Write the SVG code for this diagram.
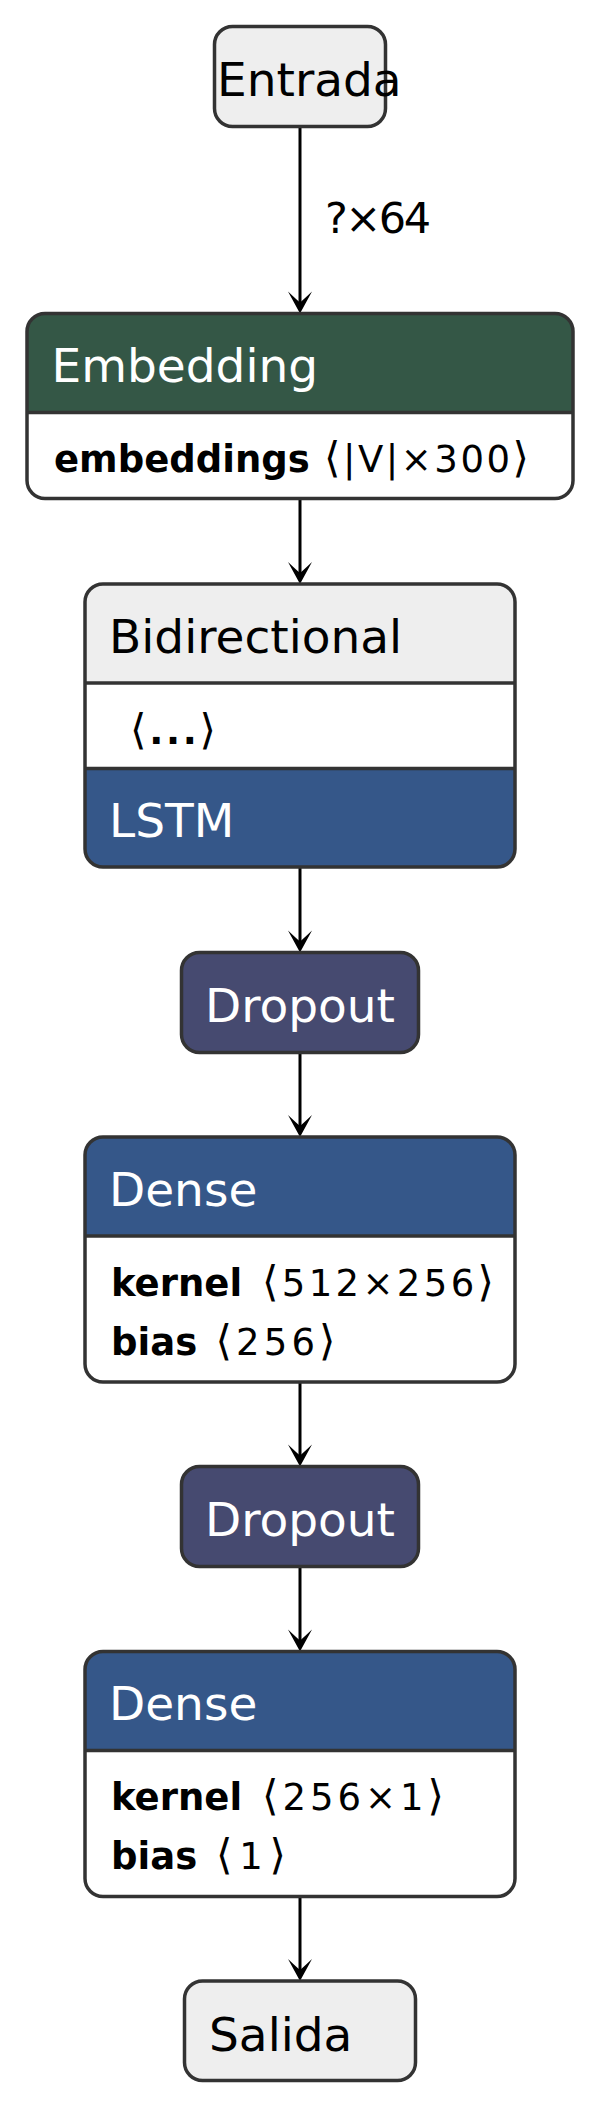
<svg xmlns="http://www.w3.org/2000/svg" xmlns:xlink="http://www.w3.org/1999/xlink" width="600" height="2109" viewBox="0 0 600 2109">
<style>
.box{stroke:#333333;stroke-width:3.5}
.ol{fill:none}
.div{stroke:#333333;stroke-width:3.5}
.hd{font-family:"DejaVu Sans","Liberation Sans",sans-serif;font-size:47px}
.bd{font-family:"DejaVu Sans","Liberation Sans",sans-serif;font-size:37px;fill:#000}
.br{font-size:42px}
.b{font-weight:bold}
.w{fill:#ffffff}
.k{fill:#000000}
.lbl{font-family:"DejaVu Sans","Liberation Sans",sans-serif;font-size:43px;fill:#000}
.edge{stroke:#000;stroke-width:3;fill:none}
</style>
<defs>
<path id="ah" d="M0,0 L-12,-22 Q-3,-13.5 0,-11 Q3,-13.5 12,-22 Z" fill="#000"/>
</defs>
<rect width="600" height="2109" fill="#ffffff"/>
<g id="connectors">
<line class="edge" x1="300" y1="126.5" x2="300" y2="304"/>
<use xlink:href="#ah" x="300" y="313.5"/>
<text class="lbl" x="325" y="232.5" textLength="106">?×64</text>
<line class="edge" x1="300" y1="498.5" x2="300" y2="574"/>
<use xlink:href="#ah" x="300" y="584"/>
<line class="edge" x1="300" y1="867" x2="300" y2="943"/>
<use xlink:href="#ah" x="300" y="952.5"/>
<line class="edge" x1="300" y1="1052.5" x2="300" y2="1127"/>
<use xlink:href="#ah" x="300" y="1137"/>
<line class="edge" x1="300" y1="1382" x2="300" y2="1457"/>
<use xlink:href="#ah" x="300" y="1466.5"/>
<line class="edge" x1="300" y1="1566.5" x2="300" y2="1642"/>
<use xlink:href="#ah" x="300" y="1651.5"/>
<line class="edge" x1="300" y1="1896.5" x2="300" y2="1971"/>
<use xlink:href="#ah" x="300" y="1981"/>
</g>
<g id="entrada">
<rect x="214.5" y="26.5" width="171" height="100" rx="18" fill="#eeeeee" class="box"/>
<text class="hd k" x="217" y="96">Entrada</text>
</g>
<g id="embedding">
<rect x="27" y="313.5" width="546" height="185" rx="18" fill="#ffffff"/>
<path d="M27,412.5 V331.5 A18,18 0 0 1 45,313.5 H555 A18,18 0 0 1 573,331.5 V412.5 Z" fill="#345746"/>
<line class="div" x1="27" y1="412.5" x2="573" y2="412.5"/>
<rect x="27" y="313.5" width="546" height="185" rx="18" class="box ol"/>
<text class="hd w" x="51.5" y="382">Embedding</text>
<text class="bd b" x="54" y="472">embeddings</text>
<text class="bd" x="324" y="472" textLength="205"><tspan class="br">⟨</tspan>|V|×300<tspan class="br">⟩</tspan></text>
</g>
<g id="bidirectional">
<rect x="85" y="584" width="430" height="283" rx="18" fill="#ffffff"/>
<path d="M85,683 V602 A18,18 0 0 1 103,584 H497 A18,18 0 0 1 515,602 V683 Z" fill="#eeeeee"/>
<path d="M85,768.5 V849 A18,18 0 0 0 103,867 H497 A18,18 0 0 0 515,849 V768.5 Z" fill="#355789"/>
<line class="div" x1="85" y1="683" x2="515" y2="683"/>
<line class="div" x1="85" y1="768.5" x2="515" y2="768.5"/>
<rect x="85" y="584" width="430" height="283" rx="18" class="box ol"/>
<text class="hd k" x="109" y="652.5">Bidirectional</text>
<text class="bd" x="130" y="744" textLength="86"><tspan class="br">⟨</tspan><tspan class="b">...</tspan><tspan class="br">⟩</tspan></text>
<text class="hd w" x="109" y="836.5">LSTM</text>
</g>
<g id="dropout1">
<rect x="181.5" y="952.5" width="237" height="100" rx="18" fill="#464a70" class="box"/>
<text class="hd w" x="205" y="1021.5">Dropout</text>
</g>
<g id="dense1">
<rect x="85" y="1137" width="430" height="245" rx="18" fill="#ffffff"/>
<path d="M85,1236 V1155 A18,18 0 0 1 103,1137 H497 A18,18 0 0 1 515,1155 V1236 Z" fill="#355789"/>
<line class="div" x1="85" y1="1236" x2="515" y2="1236"/>
<rect x="85" y="1137" width="430" height="245" rx="18" class="box ol"/>
<text class="hd w" x="109" y="1206">Dense</text>
<text class="bd b" x="111" y="1296">kernel</text>
<text class="bd" x="262" y="1296" textLength="232"><tspan class="br">⟨</tspan>512×256<tspan class="br">⟩</tspan></text>
<text class="bd b" x="111" y="1355">bias</text>
<text class="bd" x="215.5" y="1355" textLength="120"><tspan class="br">⟨</tspan>256<tspan class="br">⟩</tspan></text>
</g>
<g id="dropout2">
<rect x="181.5" y="1466.5" width="237" height="100" rx="18" fill="#464a70" class="box"/>
<text class="hd w" x="205" y="1535.5">Dropout</text>
</g>
<g id="dense2">
<rect x="85" y="1651.5" width="430" height="245" rx="18" fill="#ffffff"/>
<path d="M85,1750.5 V1669.5 A18,18 0 0 1 103,1651.5 H497 A18,18 0 0 1 515,1669.5 V1750.5 Z" fill="#355789"/>
<line class="div" x1="85" y1="1750.5" x2="515" y2="1750.5"/>
<rect x="85" y="1651.5" width="430" height="245" rx="18" class="box ol"/>
<text class="hd w" x="109" y="1719.5">Dense</text>
<text class="bd b" x="111" y="1809.5">kernel</text>
<text class="bd" x="262" y="1809.5" textLength="182"><tspan class="br">⟨</tspan>256×1<tspan class="br">⟩</tspan></text>
<text class="bd b" x="111" y="1868.5">bias</text>
<text class="bd" x="216" y="1868.5" textLength="70"><tspan class="br">⟨</tspan>1<tspan class="br">⟩</tspan></text>
</g>
<g id="salida">
<rect x="184.5" y="1981" width="231" height="99.5" rx="18" fill="#eeeeee" class="box"/>
<text class="hd k" x="209" y="2050.5">Salida</text>
</g>
</svg>
